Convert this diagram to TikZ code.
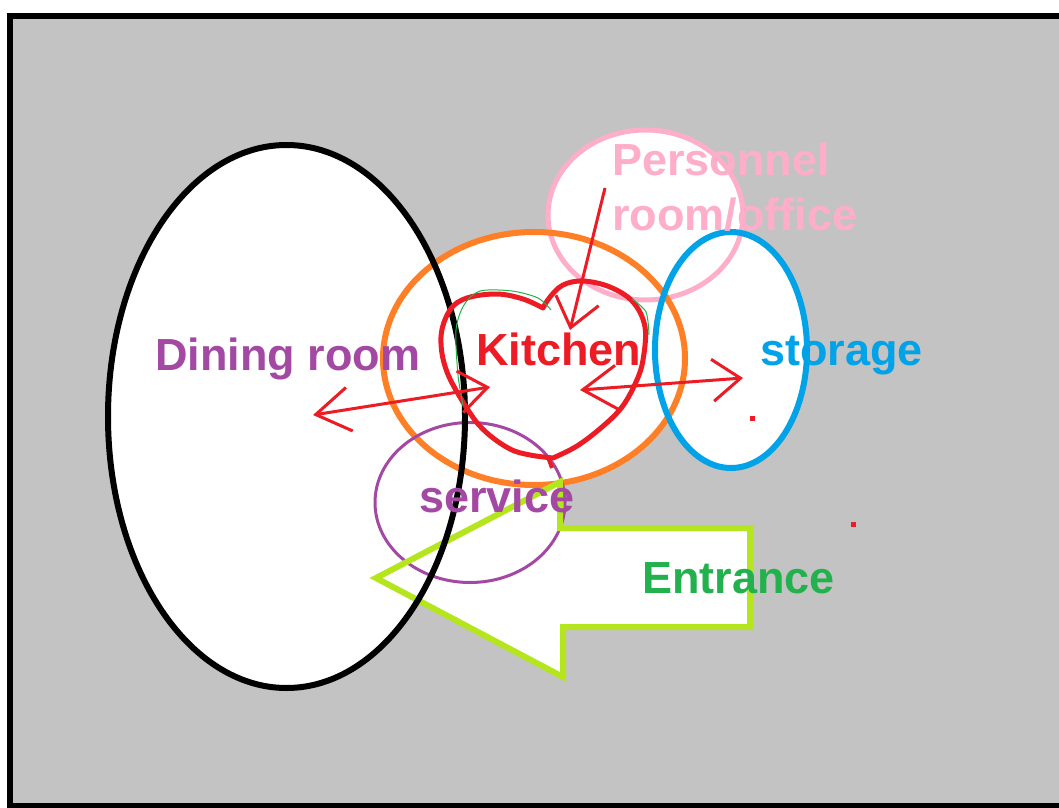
\documentclass[tikz,border=0pt]{standalone}
\usepackage{fontspec}
\setmainfont{Liberation Sans}
\usetikzlibrary{arrows.meta,shapes.geometric}
\definecolor{paintgray}{HTML}{C3C3C3}
\definecolor{porange}{HTML}{FF7F27}
\definecolor{ppink}{HTML}{FFAEC9}
\definecolor{pblue}{HTML}{00A2E8}
\definecolor{ppurple}{HTML}{A349A4}
\definecolor{pred}{HTML}{ED1C24}
\definecolor{pgreen}{HTML}{22B14C}
\definecolor{plime}{HTML}{B5E61D}
\begin{document}
\begin{tikzpicture}[x=1bp,y=-1bp,
  lbl/.style={anchor=base west, inner sep=0pt, font=\fontsize{45bp}{54bp}\selectfont\bfseries},
  room/.style={ellipse, draw, inner sep=0pt, outer sep=0pt},
  redarrow/.style={pred, line width=3bp, -{Straight Barb[length=28bp,width=44bp]}},
  dblarrow/.style={pred, line width=3bp, {Straight Barb[length=34bp,width=44bp]}-{Straight Barb[length=28bp,width=42bp]}},
]
\useasboundingbox (0,0) rectangle (1059,808);
% frame: grey canvas, black edges on top, left and bottom
\fill[white] (0,0) rectangle (1059,808);
\fill[paintgray] (10,16) rectangle (1059,805.5);
\draw[line width=6bp, line join=miter] (1059,16) -- (10,16) -- (10,805.5) -- (1059,805.5);

% white fills of the rooms
\fill[white] (645.5,215) ellipse [x radius=97.5bp, y radius=85bp];
\fill[white] (534,358.5) ellipse [x radius=151bp, y radius=126.5bp];
\fill[white] (731,350) ellipse [x radius=76bp, y radius=118bp];
\fill[white] (470,502.5) ellipse [x radius=95bp, y radius=80bp];
\fill[white] (286.5,416.5) ellipse [x radius=178.5bp, y radius=271.5bp];
\fill[white] (376,578) -- (560,482) -- (560,528) -- (750,528) -- (750,627) -- (563,627) -- (563,677) -- cycle;

% outlines
\node[room, draw=ppink, line width=5bp, minimum width=195bp, minimum height=170bp] (personnel) at (645.5,215) {};
\node[room, draw=porange, line width=6bp, minimum width=302bp, minimum height=253bp] (kitchen) at (534,358.5) {};
\node[room, draw=pblue, line width=6bp, minimum width=152bp, minimum height=236bp] (storage) at (731,350) {};
\node[room, draw=ppurple, line width=3bp, minimum width=190bp, minimum height=160bp] (service) at (470,502.5) {};
\draw[plime, line width=6bp, line join=miter] (376,578) -- (560,482) -- (560,528) -- (750,528) -- (750,627) -- (563,627) -- (563,677) -- cycle;
\node[room, draw=black, line width=6bp, minimum width=357bp, minimum height=543bp] (dining) at (286.5,416.5) {};

% heart
\draw[pred, line width=5bp, line join=round, line cap=round]
  plot[smooth, tension=0.6] coordinates {(553,458) (530,455) (510,449) (487,433) (470,413) (447,372) (441,337) (450,310) (467,298) (497,294) (523,299) (543,308)}
  plot[smooth, tension=0.6] coordinates {(543,308) (550,297) (563,285) (583,281) (610,287) (633,302) (645,327) (643,360) (636,382) (622,407) (602,427) (577,446) (553,458)};
\draw[pred, line width=4bp] (548,457) -- (552,468);
\draw[pgreen, line width=1bp] plot[smooth] coordinates {(463,405) (458,375) (456,330) (464,305) (480,291) (512,291) (538,298) (551,310)};
\draw[pgreen, line width=1bp] plot[smooth] coordinates {(632,299) (646,312) (649,335)};

% stray dots
\fill[pred] (750,416) rectangle (755,421);
\fill[pred] (851,522) rectangle (856,527);

% arrow end points
\coordinate (pstart) at (605,188);
\coordinate (ptip) at (570,330);
\coordinate (dtip) at (313,415);
\coordinate (ktipl) at (490,387);
\coordinate (ktipr) at (580,390);
\coordinate (stip) at (743,378);

\draw[redarrow] (pstart) -- (ptip);
\draw[dblarrow] (dtip) -- (ktipl);
\draw[dblarrow] (ktipr) -- (stip);

% labels
\node[lbl, text=ppurple] (tdining) at (155,370) {Dining room};
\node[lbl, text=pred] (tkitchen) at (476,365) {Kitchen};
\node[lbl, text=ppink] (tpers1) at (612,175) {Personnel};
\node[lbl, text=ppink] (tpers2) at (612,230) {room/office};
\node[lbl, text=pblue] (tstorage) at (760,365) {storage};
\node[lbl, text=ppurple] (tservice) at (419,512) {service};
\node[lbl, text=pgreen] (tentrance) at (642,593) {Entrance};
\end{tikzpicture}
\end{document}
